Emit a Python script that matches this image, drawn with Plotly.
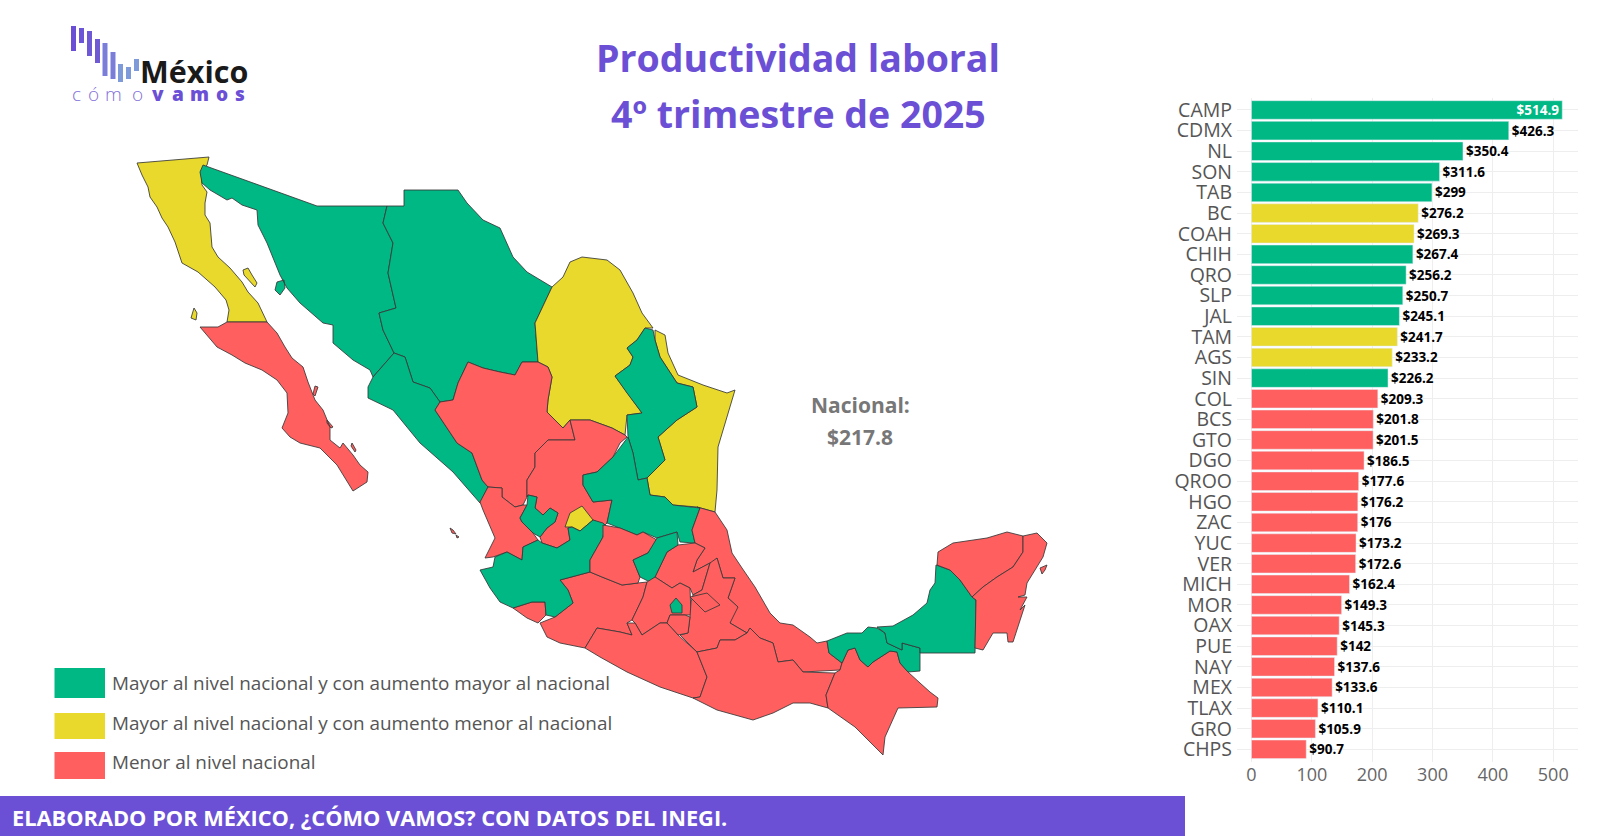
import plotly.graph_objects as go

# ---------- data ----------
STATES = ["CAMP","CDMX","NL","SON","TAB","BC","COAH","CHIH","QRO","SLP","JAL","TAM","AGS","SIN","COL","BCS",
          "GTO","DGO","QROO","HGO","ZAC","YUC","VER","MICH","MOR","OAX","PUE","NAY","MEX","TLAX","GRO","CHPS"]
VALUES = [514.9,426.3,350.4,311.6,299,276.2,269.3,267.4,256.2,250.7,245.1,241.7,233.2,226.2,209.3,201.8,
          201.5,186.5,177.6,176.2,176,173.2,172.6,162.4,149.3,145.3,142,137.6,133.6,110.1,105.9,90.7]
GROUP = ["A","A","A","A","A","Y","Y","A","A","A","A","Y","Y","A","R","R",
         "R","R","R","R","R","R","R","R","R","R","R","R","R","R","R","R"]
COLORS = {"A":"#00B884","Y":"#E8D92C","R":"#FF5F5F"}
LEGEND_TEXT = ["Mayor al nivel nacional y con aumento mayor al nacional",
               "Mayor al nivel nacional y con aumento menor al nacional",
               "Menor al nivel nacional"]
NACIONAL = 217.8

# state outlines, map units
BC = [[(137,163),(209,157),(207,165),(201,172),(202,185),(207,192),(205,203),(205,215),(210,223),(212,247),(218,257),(230,268),(242,282),(248,292),(258,303),(267,322),(227,322),(229,310),(226,300),(215,287),(198,272),(182,263),(175,242),(168,227),(162,218),(157,207),(150,197),(148,187),(142,175)],
      [(243,270),(248,268),(252,275),(257,283),(255,287),(248,280),(244,275)],
      [(194,308),(197,313),(196,320),(191,318)]]
BCS = [[(267,322),(277,333),(285,347),(292,358),(303,367),(308,382),(315,400),(323,410),(330,427),(330,440),(340,448),(343,443),(353,455),(360,465),(368,472),(367,482),(353,491),(348,483),(337,465),(320,448),(300,443),(290,437),(282,428),(288,413),(287,393),(277,380),(262,370),(245,363),(232,355),(217,347),(200,327),(218,327),(227,322)],
       [(315,386),(318,387),(315,396),(313,394)],[(327,420),(333,427),(331,428),(327,423)],[(352,443),(356,450),(355,452),(351,446)]]
SON = [[(203,165),(317,206),(387,206),(383,223),(393,243),(388,273),(396,308),(379,313),(383,330),(394,353),(373,377),(370,370),(353,360),(333,343),(333,325),(323,323),(300,303),(287,288),(280,275),(267,243),(258,225),(257,210),(242,205),(232,198),(227,200),(210,190),(202,183),(200,172)],
       [(277,282),(284,280),(285,288),(280,295),(275,290)]]
CHIH = [[(387,206),(404,206),(404,190),(458,190),(467,203),(483,220),(500,228),(510,250),(513,257),(527,272),(552,287),(535,323),(538,362),(522,362),(515,375),(500,372),(483,368),(468,362),(458,383),(453,400),(440,402),(430,388),(413,382),(405,357),(394,353),(383,330),(379,313),(396,308),(388,273),(393,243),(383,223)]]
SIN = [[(394,353),(405,357),(413,382),(430,388),(440,402),(435,410),(457,443),(472,453),(482,480),(488,487),(480,503),(453,472),(420,443),(393,410),(368,398),(368,387),(373,377)]]
COAH = [[(552,287),(563,277),(570,262),(582,257),(607,260),(620,270),(633,293),(642,313),(653,328),(645,328),(637,340),(627,348),(633,357),(630,365),(615,376),(627,393),(642,413),(627,415),(625,435),(612,428),(590,420),(570,420),(563,428),(547,412),(548,400),(552,377),(548,367),(538,362),(535,323)]]
TAM = [[(655,330),(665,335),(668,353),(678,375),(703,385),(727,393),(735,390),(728,413),(718,447),(717,490),(715,512),(697,507),(673,505),(665,497),(650,495),(647,478),(665,460),(658,437),(677,420),(697,407),(693,387),(677,383),(660,357),(655,340)]]
NL = [[(645,328),(653,330),(655,340),(660,357),(677,383),(693,387),(697,407),(677,420),(658,437),(665,460),(647,478),(638,480),(633,453),(628,437),(627,415),(642,413),(627,393),(615,376),(630,365),(633,357),(627,348),(637,340)]]
DGO = [[(468,362),(483,368),(500,372),(515,375),(522,362),(538,362),(548,367),(552,377),(548,400),(547,412),(563,428),(570,420),(575,440),(548,440),(535,453),(535,467),(527,480),(527,497),(523,505),(515,507),(502,497),(502,488),(488,487),(482,480),(472,453),(457,443),(435,410),(440,402),(453,400),(458,383)]]
ZAC = [[(570,420),(590,420),(612,428),(625,435),(627,437),(620,443),(613,457),(597,472),(583,475),(583,485),(593,502),(612,500),(607,523),(605,525),(593,520),(580,531),(568,528),(570,540),(557,548),(542,543),(540,537),(547,528),(555,522),(558,513),(550,508),(543,515),(535,508),(537,497),(528,495),(527,497),(527,480),(535,467),(535,453),(548,440),(575,440)]]
NAY = [[(488,487),(502,488),(502,497),(515,507),(523,505),(527,505),(520,518),(522,522),(533,533),(538,540),(523,547),(522,560),(507,552),(493,557),(485,558),(495,538),(483,510),(480,502)],
       [(450,528),(453,530),(456,534),(452,533)],[(456,535),(459,537),(457,538)]]
AGS = [[(565,527),(570,513),(582,506),(593,520),(580,531),(572,527)]]
SLP = [[(628,437),(633,453),(638,480),(647,478),(650,495),(665,497),(673,505),(697,507),(700,508),(692,530),(695,543),(680,542),(677,532),(657,538),(643,532),(637,535),(607,523),(612,500),(593,502),(583,485),(583,475),(597,472),(613,457)]]
VER = [[(697,507),(715,512),(727,530),(732,553),(742,568),(755,587),(770,613),(780,623),(793,625),(810,637),(817,643),(827,641),(829,653),(842,663),(840,670),(803,672),(793,660),(778,662),(773,643),(760,638),(750,628),(747,633),(730,623),(733,610),(738,607),(728,598),(735,578),(723,578),(717,558),(712,563),(710,563),(693,572),(697,560),(705,548),(695,543),(692,530),(700,508)]]
HGO = [[(678,545),(695,543),(705,548),(697,560),(693,572),(710,563),(702,590),(693,595),(690,588),(680,583),(672,588),(655,577),(667,552)]]
MICH = [[(560,580),(590,572),(602,577),(622,585),(638,583),(647,582),(643,597),(632,620),(627,623),(632,635),(620,632),(597,628),(585,648),(560,643),(547,637),(540,623),(555,617),(573,603),(568,590)]]
COL = [[(513,608),(532,602),(545,602),(546,615),(538,623),(527,618)]]
JAL = [[(480,570),(493,567),(495,557),(507,552),(522,560),(523,547),(538,540),(542,543),(557,548),(570,540),(568,528),(572,527),(580,531),(593,520),(603,523),(605,525),(603,537),(590,560),(590,572),(560,580),(568,590),(573,603),(555,617),(546,615),(545,602),(532,602),(513,608),(500,602),(490,588)],
       [(520,518),(527,505),(528,495),(537,497),(535,508),(543,515),(550,508),(558,513),(555,522),(547,528),(540,537),(533,533),(522,522)]]
GTO = [[(603,525),(620,528),(637,535),(643,532),(657,540),(648,553),(633,560),(640,577),(638,583),(622,585),(602,577),(590,572),(590,560),(603,537)]]
QRO = [[(657,538),(677,532),(678,545),(667,552),(655,577),(650,582),(640,577),(633,560),(648,553)]]
MEX = [[(647,582),(655,577),(672,588),(680,583),(690,588),(691,615),(670,615),(667,623),(660,623),(642,635),(635,623),(632,620),(643,597)]]
CDMX = [[(676,598),(682,605),(682,613),(672,613),(670,605)]]
MOR = [[(670,615),(685,615),(690,617),(688,633),(678,635),(667,623)]]
TLAX = [[(690,597),(707,593),(720,605),(705,612),(693,600)]]
PUE = [[(702,590),(710,563),(717,558),(723,578),(735,578),(728,598),(738,607),(730,623),(747,633),(735,640),(720,640),(717,648),(697,652),(680,635),(688,633),(690,617),(691,602),(693,595)]]
GRO = [[(585,648),(597,628),(620,632),(632,635),(627,623),(635,623),(642,635),(660,623),(667,623),(678,635),(697,652),(707,677),(700,697),(693,698),(660,687),(627,672),(600,657)]]
OAX = [[(697,652),(717,648),(720,640),(735,640),(747,633),(750,628),(760,638),(773,643),(778,662),(793,660),(803,672),(835,673),(826,695),(828,708),(810,703),(793,703),(773,713),(753,720),(717,710),(693,698),(700,697),(707,677)]]
CHPS = [[(835,673),(840,670),(842,663),(848,650),(855,648),(860,660),(868,667),(873,662),(890,651),(897,652),(900,663),(908,672),(920,683),(930,692),(938,698),(937,707),(898,708),(885,737),(883,755),(855,727),(828,708),(826,695)]]
TAB = [[(827,641),(847,633),(862,633),(868,627),(877,628),(885,633),(887,643),(902,650),(902,643),(920,648),(920,671),(908,672),(900,663),(897,652),(890,651),(873,662),(868,667),(860,660),(855,648),(848,650),(842,663),(829,653)]]
CAMP = [[(877,627),(893,626),(913,615),(927,603),(930,590),(935,583),(936,565),(950,570),(960,580),(972,597),(976,600),(975,653),(920,653),(920,648),(902,643),(902,650),(887,643),(885,633)]]
YUC = [[(937,565),(938,552),(953,543),(987,538),(1007,532),(1023,536),(1023,552),(1013,567),(997,577),(983,587),(972,597),(960,580),(950,570)]]
QROO = [[(1023,536),(1037,533),(1047,543),(1043,557),(1027,583),(1025,595),(1018,597),(1027,597),(1020,610),(1025,605),(1013,642),(1008,642),(1007,633),(993,633),(983,650),(975,648),(976,600),(972,597),(983,587),(997,577),(1013,567),(1023,552)],
        [(1040,568),(1047,565),(1045,570),(1042,574)]]
OUTLINES = {"BC":BC,"BCS":BCS,"SON":SON,"CHIH":CHIH,"SIN":SIN,"COAH":COAH,"TAM":TAM,"NL":NL,"DGO":DGO,"ZAC":ZAC,
            "NAY":NAY,"AGS":AGS,"SLP":SLP,"VER":VER,"HGO":HGO,"MICH":MICH,"COL":COL,"JAL":JAL,"GTO":GTO,"QRO":QRO,
            "MEX":MEX,"PUE":PUE,"TLAX":TLAX,"MOR":MOR,"CDMX":CDMX,"GRO":GRO,"OAX":OAX,"CHPS":CHPS,"TAB":TAB,
            "CAMP":CAMP,"YUC":YUC,"QROO":QROO}

# logo bars: left, right, top, bottom (logo units) and their tints
LOGO_BARS = [(71,76,26,51,"#6A4FD6"),(79,84,28,43,"#6C55D6"),(87,92,31,56,"#6E58D6"),(95,100,39,63,"#6F5AD4"),
             (102.5,107.5,43,76,"#7A7ED8"),(110.5,115.5,52,79,"#7A7ED8"),(118,123,64,82,"#7F9AD8"),(126,131,67,79,"#7F9AD8"),(134,139,59,71,"#7F9AD8")]
LOGO_LETTERS = [("c",76,0),("ó",93,0),("m",114,0),("o",137,0),("v",158,1),("a",178,1),("m",199,1),("o",222,1),("s",240,1)]

FONT = "Open Sans"
PURPLE = "#6B50D6"
W, H = 1600, 836
fig = go.Figure()

# ---------- map ----------
for code, rings in OUTLINES.items():
    i = STATES.index(code)
    xs, ys = [], []
    for ring in rings:
        closed = ring + ring[:1]
        xs += [p[0] for p in closed] + [None]
        ys += [p[1] for p in closed] + [None]
    fig.add_trace(go.Scatter(x=xs, y=ys, mode="lines", fill="toself", fillcolor=COLORS[GROUP[i]],
                             line=dict(color="rgba(55,55,55,0.85)", width=1), xaxis="x2", yaxis="y2",
                             name=code, showlegend=False, hoveron="fills",
                             text=f"{code}: ${VALUES[i]:g}", hoverinfo="text"))

# ---------- bars ----------
labels = [f"${v:g}" for v in VALUES]
fig.add_trace(go.Bar(y=STATES, x=VALUES, orientation="h", marker=dict(color=[COLORS[g] for g in GROUP]),
                     text=labels, textposition=["inside"]+["outside"]*(len(VALUES)-1), textangle=0,
                     insidetextanchor="end", constraintext="none", cliponaxis=False, width=0.9,
                     insidetextfont=dict(family=FONT, size=13.5, color="white", weight=700),
                     outsidetextfont=dict(family=FONT, size=13.5, color="black", weight=700),
                     showlegend=False, xaxis="x", yaxis="y"))

ann = []
def text(x, y, s, size, color, weight=400, anchor="center", fam=FONT):
    ann.append(dict(x=x/W, y=1-y/H, xref="paper", yref="paper", text=s, showarrow=False, xanchor=anchor, yanchor="middle",
                    font=dict(family=fam, size=size, color=color, weight=weight)))

text(798, 58, "Productividad laboral", 37.5, PURPLE, 700)
text(798, 114, "4º trimestre de 2025", 37.5, PURPLE, 700)
text(860, 405, "Nacional:", 21, "#777777", 700)
text(860, 437, f"${NACIONAL}", 21, "#777777", 700)

shapes = []
SWATCH_Y = [(668,698),(713,739),(752,779)]
TEXT_Y = [683,723,762]
for (t, b), g, s, ty in zip(SWATCH_Y, ["A","Y","R"], LEGEND_TEXT, TEXT_Y):
    shapes.append(dict(type="rect", xref="paper", yref="paper", x0=54.5/W, x1=105/W, y0=1-b/H, y1=1-t/H,
                       fillcolor=COLORS[g], line_width=0))
    text(110, ty, s, 18.9, "#555555", 400, "left")

shapes.append(dict(type="rect", xref="paper", yref="paper", x0=0, x1=1185/W, y0=0, y1=1-796/H, fillcolor=PURPLE, line_width=0))
text(10, 817, "ELABORADO POR MÉXICO, ¿CÓMO VAMOS? CON DATOS DEL INEGI.", 21.8, "white", 700, "left")

for l, r, t, b, c in LOGO_BARS:
    shapes.append(dict(type="rect", xref="paper", yref="paper", x0=l/W, x1=r/W, y0=1-b/H, y1=1-t/H, fillcolor=c, line_width=0))
text(138, 71, "México", 30.5, "#1a1a1a", 700, "left")
for ch, x, bold in LOGO_LETTERS:
    text(x, 94, ch, 19, PURPLE if bold else "#7F6FD8", 800 if bold else 300)

top, bottom = 97.6, 761.7
fig.update_layout(
    width=W, height=H, autosize=False, margin=dict(l=0, r=0, t=0, b=0, autoexpand=False, pad=0),
    paper_bgcolor="white", plot_bgcolor="rgba(0,0,0,0)", bargap=0.1,
    annotations=ann, shapes=shapes, font=dict(family=FONT),
    xaxis=dict(domain=[1237/W, 1578/W], range=[-24, 541], tickvals=[0,100,200,300,400,500], showgrid=True,
               gridcolor="#EEEEEE", gridwidth=1, zeroline=False, ticks="", anchor="y", automargin=False,
               tickfont=dict(family=FONT, size=18, color="#666666"), showline=False),
    yaxis=dict(domain=[1-bottom/H, 1-top/H], range=[len(STATES)-0.4, -0.6], type="category", categoryorder="array",
               categoryarray=STATES, showgrid=True, gridcolor="#EEEEEE", gridwidth=1, zeroline=False, ticks="", anchor="x",
               tickfont=dict(family=FONT, size=19.5, color="#555555"), showline=False, tickmode="array", automargin=False,
               tickvals=STATES, ticktext=STATES, ticklabelstandoff=4),
    xaxis2=dict(domain=[0,1], range=[0,W], visible=False, anchor="y2"),
    yaxis2=dict(domain=[0,1], range=[H,0], visible=False, anchor="x2"),
)
fig.write_html("out.html", post_script="document.body.style.margin='0';", config=dict(displayModeBar=False))
